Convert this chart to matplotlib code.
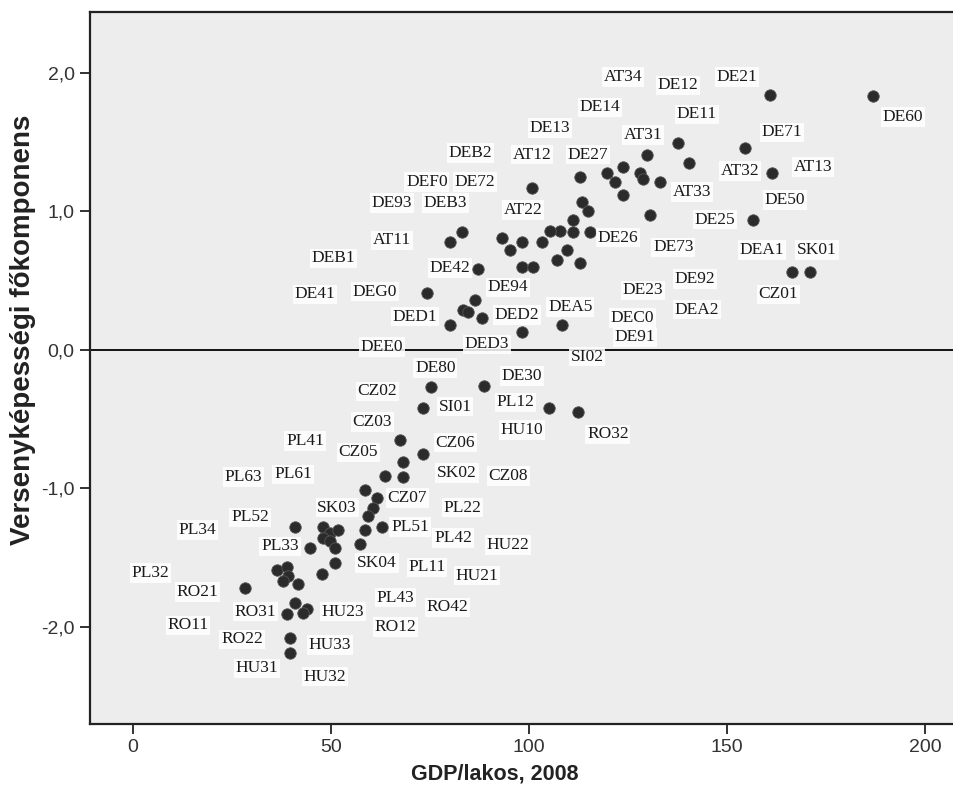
import matplotlib
matplotlib.use("Agg")
import matplotlib.pyplot as plt
from matplotlib.ticker import FuncFormatter, FixedLocator

# ---- data ----
point_gdp = [186.9, 160.9, 137.6, 154.5, 129.8, 140.4, 161.4, 112.9, 119.7, 123.7,
             121.7, 128.0, 128.8, 133.1, 123.7, 100.8, 130.6, 156.6, 113.4, 114.9,
             111.1, 111.1, 115.4, 107.8, 105.3, 103.3, 109.6, 107.1, 112.9, 98.2,
             101.0, 93.2, 95.2, 98.2, 83.1, 80.1, 87.1, 74.2, 83.3, 84.6,
             86.4, 88.1, 80.1, 98.2, 108.3, 166.4, 171.0,
             75.3, 88.6, 73.2, 105.1, 112.4, 67.4, 73.2, 68.2, 63.6, 68.2,
             58.6, 61.6, 60.6, 59.3, 62.9, 58.6, 57.3, 40.9, 48.0, 49.7,
             51.8, 48.0, 49.7, 44.7, 51.0, 51.0, 47.7, 36.4, 38.9, 39.1,
             37.9, 41.7, 28.3, 40.9, 43.9, 38.9, 42.9, 39.6, 39.6]
point_score = [1.83, 1.84, 1.49, 1.46, 1.41, 1.35, 1.28, 1.25, 1.28, 1.32,
               1.21, 1.28, 1.23, 1.21, 1.12, 1.17, 0.97, 0.94, 1.07, 1.00,
               0.94, 0.85, 0.85, 0.86, 0.86, 0.78, 0.72, 0.65, 0.63, 0.60,
               0.60, 0.81, 0.72, 0.78, 0.85, 0.78, 0.58, 0.41, 0.29, 0.27,
               0.36, 0.23, 0.18, 0.13, 0.18, 0.56, 0.56,
               -0.27, -0.26, -0.42, -0.42, -0.45, -0.65, -0.75, -0.81, -0.91, -0.92,
               -1.01, -1.07, -1.14, -1.20, -1.28, -1.30, -1.40, -1.28, -1.28, -1.32,
               -1.30, -1.36, -1.38, -1.43, -1.43, -1.54, -1.62, -1.59, -1.57, -1.63,
               -1.67, -1.69, -1.72, -1.83, -1.87, -1.91, -1.90, -2.08, -2.19]

label_names = ["DEB2", "DEF0", "DE72", "DE93", "DEB3", "AT11", "DEB1", "AT34", "DE12", "DE21",
               "DE14", "DE11", "DE60", "DE13", "AT31", "DE71", "AT12", "DE27", "AT32", "AT13",
               "AT33", "DE50", "AT22", "DE25", "DE26", "DE73", "DEA1", "SK01", "DE42", "DE41",
               "DEG0", "DED1", "DEE0", "DED3", "DE94", "DE23", "DE92", "CZ01", "DED2", "DEA5",
               "DEC0", "DEA2", "DE91", "SI02", "DE80", "DE30", "CZ02", "SI01", "PL12", "CZ03",
               "HU10", "RO32", "PL41", "CZ05", "CZ06", "PL63", "PL61", "SK02", "CZ08", "CZ07",
               "SK03", "PL22", "PL52", "PL34", "PL51", "PL42", "HU22", "PL33", "SK04", "PL11",
               "HU21", "PL32", "RO21", "PL43", "RO42", "RO31", "HU23", "RO11", "RO12", "RO22",
               "HU33", "HU31", "HU32"]
label_gdp = [85.1, 74.2, 86.4, 65.4, 78.8, 65.4, 50.5, 123.7, 137.6, 152.5,
             117.9, 142.4, 194.4, 105.3, 128.8, 163.9, 100.8, 114.9, 153.3, 171.7,
             141.2, 164.6, 98.5, 147.0, 122.5, 136.4, 158.8, 172.7, 80.1, 46.0,
             61.1, 71.2, 62.9, 89.4, 94.7, 128.8, 141.9, 162.9, 97.0, 110.4,
             126.0, 142.4, 126.8, 114.6, 76.3, 98.2, 61.6, 81.3, 96.5, 60.4,
             98.2, 119.9, 43.4, 56.8, 81.3, 27.8, 40.4, 81.8, 94.7, 69.2,
             51.5, 83.1, 29.5, 16.2, 69.9, 80.8, 94.7, 37.1, 61.6, 74.2,
             86.9, 4.3, 16.2, 66.2, 79.3, 30.8, 53.0, 13.9, 66.2, 27.5,
             49.7, 31.3, 48.5]
label_score = [1.42, 1.21, 1.21, 1.06, 1.06, 0.79, 0.66, 1.97, 1.91, 1.97,
               1.75, 1.70, 1.68, 1.60, 1.55, 1.57, 1.41, 1.41, 1.29, 1.32,
               1.14, 1.08, 1.01, 0.94, 0.81, 0.74, 0.72, 0.72, 0.59, 0.40,
               0.42, 0.24, 0.02, 0.04, 0.45, 0.43, 0.51, 0.40, 0.25, 0.31,
               0.23, 0.29, 0.09, -0.05, -0.13, -0.19, -0.30, -0.41, -0.38, -0.52,
               -0.58, -0.61, -0.66, -0.74, -0.67, -0.92, -0.90, -0.89, -0.91, -1.07,
               -1.14, -1.14, -1.21, -1.30, -1.28, -1.36, -1.41, -1.42, -1.54, -1.57,
               -1.63, -1.61, -1.75, -1.79, -1.86, -1.89, -1.89, -1.99, -2.00, -2.09,
               -2.13, -2.30, -2.36]

x_ticks = [0, 50, 100, 150, 200]
y_ticks = [-2.0, -1.0, 0.0, 1.0, 2.0]
x_title = "GDP/lakos, 2008"
y_title = "Versenyképességi főkomponens"

# ---- figure ----
fig = plt.figure(figsize=(9.54, 7.91), dpi=100)
ax = fig.add_axes([0.0943, 0.085, 0.9057, 0.900])
ax.set_facecolor("#ededed")

ax.set_xlim(-10.9, 207.3)
ax.set_ylim(-2.70, 2.44)

ax.axhline(0, color="black", lw=1.3, zorder=1)

ax.scatter(point_gdp, point_score, s=68, color="#2b2b2b", edgecolors="#555555",
           linewidths=0.6, zorder=3)

for name, gx, gy in zip(label_names, label_gdp, label_score):
    ax.text(gx, gy, name, ha="center", va="center", fontsize=12.5,
            family="Liberation Serif", color="#1a1a1a", zorder=4,
            bbox=dict(boxstyle="square,pad=0.1", fc="white", ec="none", alpha=0.85))

ax.xaxis.set_major_locator(FixedLocator(x_ticks))
ax.yaxis.set_major_locator(FixedLocator(y_ticks))
ax.yaxis.set_major_formatter(FuncFormatter(lambda v, p: f"{v:.1f}".replace(".", ",")))
ax.xaxis.set_major_formatter(FuncFormatter(lambda v, p: f"{v:.0f}"))
ax.tick_params(axis="both", direction="out", length=7, width=1.3, color="#222222",
               labelsize=14, labelcolor="#333333", pad=4)
for lab in ax.get_xticklabels() + ax.get_yticklabels():
    lab.set_family("Liberation Sans")

for side in ["left", "top", "bottom"]:
    ax.spines[side].set_linewidth(1.6)
    ax.spines[side].set_color("#222222")
ax.spines["right"].set_visible(False)

ax.set_xlabel(x_title, fontsize=15.5, fontweight="bold", family="Liberation Sans",
              color="#222222")
ax.xaxis.set_label_coords(0.469, -0.056)
ax.set_ylabel(y_title, fontsize=20, fontweight="bold", family="Liberation Sans",
              color="#222222")
ax.yaxis.set_label_coords(-0.062, 0.553)

fig.savefig("out.png", dpi=100, facecolor="white")
